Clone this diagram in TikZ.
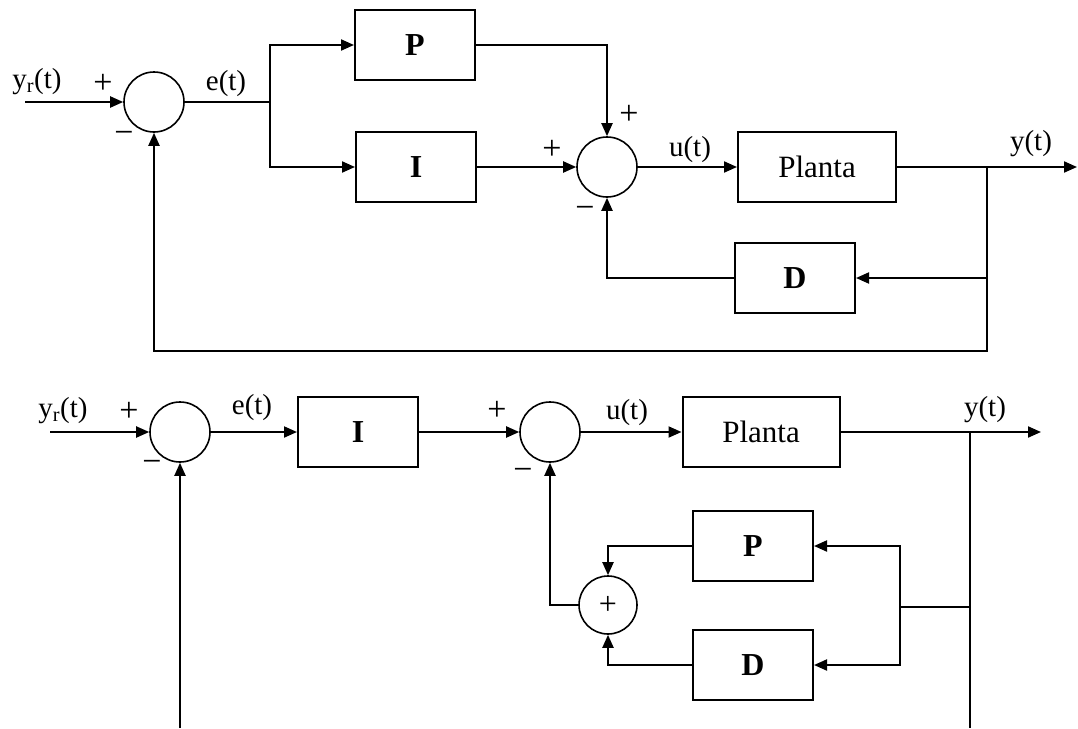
\documentclass[tikz,border=0pt]{standalone}
\usepackage{fontspec}
\setmainfont{Liberation Serif}
\usetikzlibrary{arrows.meta}
\begin{document}
\begin{tikzpicture}[x=1pt,y=-1pt,
  wire/.style={line width=2pt},
  arr/.style={wire,-{Triangle[length=13pt,width=11pt]}},
  blk/.style={draw,line width=2pt,minimum width=120pt,minimum height=70pt,inner sep=0pt,font=\fontsize{32}{36}\selectfont\bfseries},
  plantabox/.style={draw,line width=2pt,minimum width=158pt,minimum height=70pt,inner sep=0pt,font=\fontsize{31}{34}\selectfont},
  sumc/.style={draw,circle,line width=1.6pt,minimum size=60pt,inner sep=0pt,font=\fontsize{32}{34}\selectfont},
  lbl/.style={inner sep=0pt,font=\fontsize{29}{32}\selectfont},
  sgn/.style={inner sep=0pt,font=\fontsize{34}{36}\selectfont}]
\useasboundingbox (0,0) rectangle (1078,728);
\fill[white] (0,0) rectangle (1078,728);

% ---------- top diagram ----------
\coordinate (in1) at (25,102);
\node[sumc] (s1) at (154,102) {};
\coordinate (j0) at (270,102);
\node[blk] (P1) at (415,45) {P};
\node[blk] (I1) at (416,167) {I};
\node[sumc] (s2) at (607,167) {};
\node[plantabox] (Pl1) at (817,167) {Planta};
\coordinate (j1) at (987,167);
\coordinate (out1) at (1077,167);
\node[blk] (D1) at (795,278) {D};
\coordinate (c1) at (987,351);

\draw[arr] (in1) -- (s1.west);
\draw[wire] (s1.east) -- (j0);
\draw[arr] (j0) |- (P1.west);
\draw[arr] (j0) |- (I1.west);
\draw[arr] (P1.east) -| (s2.north);
\draw[arr] (I1.east) -- (s2.west);
\draw[arr] (s2.east) -- (Pl1.west);
\draw[arr] (Pl1.east) -- (out1);
\draw[arr] (j1) |- (D1.east);
\draw[arr] (D1.west) -| (s2.south);
\draw[arr] (j1) -- (c1) -| (s1.south);

\node[lbl] (l1) at (37,82) {y\textsubscript{r}(t)};
\node[sgn] (l2) at (103,84) {+};
\node[sgn] (l3) at (124,137) {−};
\node[lbl] (l4) at (226,84) {e(t)};
\node[sgn] (l5) at (629,115) {+};
\node[sgn] (l6) at (552,150) {+};
\node[sgn] (l7) at (585,212) {−};
\node[lbl] (l8) at (690,150) {u(t)};
\node[lbl] (l9) at (1031,144) {y(t)};

% ---------- bottom diagram ----------
\coordinate (in2) at (50,432);
\node[sumc] (s3) at (180,432) {};
\node[blk] (I2) at (358,432) {I};
\node[sumc] (s4) at (550,432) {};
\node[plantabox,minimum width=157pt] (Pl2) at (761,432) {Planta};
\coordinate (j2) at (970,432);
\coordinate (out2) at (1041,432);
\coordinate (b2) at (970,728);
\coordinate (b1) at (180,728);
\coordinate (j3) at (970,607);
\coordinate (j4) at (900,607);
\node[blk] (P2) at (753,546) {P};
\node[blk] (D2) at (753,665) {D};
\node[sumc,minimum size=58pt] (s5) at (608,605) {+};

\draw[arr] (in2) -- (s3.west);
\draw[arr] (s3.east) -- (I2.west);
\draw[arr] (I2.east) -- (s4.west);
\draw[arr] (s4.east) -- (Pl2.west);
\draw[arr] (Pl2.east) -- (out2);
\draw[wire] (j2) -- (b2);
\draw[arr] (b1) -- (s3.south);
\draw[wire] (j3) -- (j4);
\draw[arr] (j4) |- (P2.east);
\draw[arr] (j4) |- (D2.east);
\draw[arr] (P2.west) -| (s5.north);
\draw[arr] (D2.west) -| (s5.south);
\draw[arr] (s5.west) -| (s4.south);

\node[lbl] (m1) at (63,411) {y\textsubscript{r}(t)};
\node[sgn] (m2) at (129,412) {+};
\node[sgn] (m3) at (152,466) {−};
\node[lbl] (m4) at (252,408) {e(t)};
\node[sgn] (m5) at (497,411) {+};
\node[sgn] (m6) at (523,474) {−};
\node[lbl] (m7) at (627,413) {u(t)};
\node[lbl] (m8) at (985,410) {y(t)};
\end{tikzpicture}
\end{document}
